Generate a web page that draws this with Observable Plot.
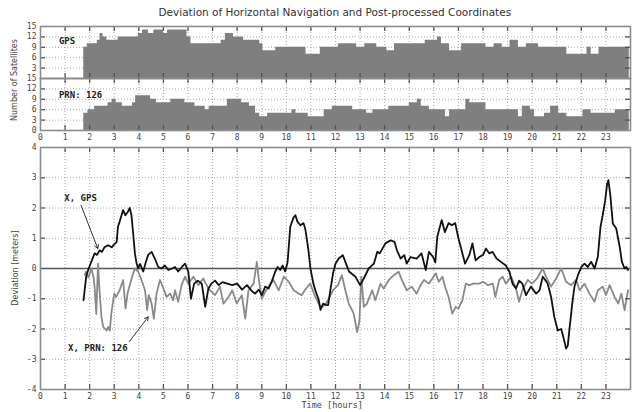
<!DOCTYPE html>
<html><head><meta charset="utf-8">
<script src="https://cdn.jsdelivr.net/npm/d3@7"></script>
<script src="https://cdn.jsdelivr.net/npm/@observablehq/plot@0.6"></script>
<style>
body{margin:0;background:#fff;}
#wrap{position:relative;width:634px;height:412px;overflow:hidden;font-family:"DejaVu Sans",sans-serif;color:#333;background:#fff}
#wrap svg{position:absolute;left:0;overflow:visible;background:transparent}
.t{position:absolute;white-space:nowrap;line-height:1}
</style></head><body><div id="wrap"></div><script>
// ---- texts ----
const title = "Deviation of Horizontal Navigation and Post-processed Coordinates";
const satLabel = "Number of Satellites";
const devLabel = "Deviation [meters]";
const timeLabel = "Time [hours]";
const panelNames = ["GPS", "PRN: 126"];
const seriesNames = ["X, GPS", "X, PRN: 126"];

// ---- tick labels ----
const hourTicks = [0,1,2,3,4,5,6,7,8,9,10,11,12,13,14,15,16,17,18,19,20,21,22,23];
const satTicksTop = [3,6,9,12,15];
const satTicksBottom = [0,3,6,9,12,15];
const devTicks = [-4,-3,-2,-1,0,1,2,3,4];

// ---- number of satellites, GPS (step starts) ----
const gpsSatHour  = [1.76,1.9,2.31,2.42,2.54,2.7,3.16,3.98,4.15,4.39,4.61,5.0,5.17,5.96,6.12,7.35,7.52,7.85,8.26,8.92,9.05,9.57,10.56,10.8,11.38,12.12,12.86,13.19,13.68,14.09,14.4,14.83,15.65,16.15,16.31,16.64,17.13,18.12,18.45,18.78,19.1,19.44,19.76,20.26,21.24,21.41,22.23,22.4,22.72,23.95];
const gpsSatCount = [9,10,11,13,12,11,12,13,14,13,14,13,14,12,10,11,13,12,11,10,8,9,9,7,9,10,9,10,9,8,10,10,11,12,10,8,10,9,10,9,11,9,10,9,9,7,9,7,9,9];

// ---- number of satellites, PRN 126 ----
const prnSatHour  = [1.76,1.93,2.2,2.75,2.91,3.08,3.33,3.74,3.87,4.48,4.72,5.3,5.87,6.28,6.7,6.86,7.6,8.18,8.5,8.75,8.92,9.24,10.23,10.39,10.89,11.54,11.87,12.7,13.27,13.52,14.17,15.0,15.33,15.49,15.82,16.47,16.64,17.3,17.46,18.12,19.44,19.6,19.93,20.09,20.5,20.75,21.08,21.41,22.07,22.4,23.38,23.95];
const prnSatCount = [5,6,7,8,9,8,7,8,10,9,8,9,8,7,6,7,9,8,7,5,4,5,6,5,4,6,7,6,5,6,7,8,9,7,6,4,6,9,8,6,4,7,6,4,5,7,5,4,6,5,6,6];

// ---- deviation X, GPS ----
const gpsDevHour = [1.75,1.86,1.96,2.2,2.3,2.4,2.5,2.6,2.75,2.9,3.0,3.1,3.15,3.22,3.36,3.45,3.55,3.63,3.7,3.77,3.84,3.9,3.97,4.05,4.18,4.28,4.38,4.52,4.65,4.79,4.92,5.06,5.2,5.35,5.47,5.6,5.75,5.88,6.01,6.12,6.25,6.4,6.56,6.7,6.83,6.95,7.1,7.25,7.4,7.6,7.8,8.0,8.2,8.4,8.6,8.73,8.88,9.0,9.14,9.28,9.42,9.55,9.65,9.75,9.85,9.95,10.05,10.16,10.3,10.37,10.45,10.57,10.7,10.78,10.9,10.98,11.1,11.18,11.32,11.39,11.5,11.6,11.7,11.79,11.9,12.0,12.13,12.3,12.4,12.55,12.7,12.81,13.0,13.15,13.35,13.56,13.7,13.8,14.03,14.24,14.4,14.5,14.65,14.8,14.9,15.05,15.3,15.5,15.67,15.8,15.97,16.06,16.14,16.32,16.45,16.6,16.73,16.87,17.0,17.13,17.27,17.44,17.57,17.7,17.85,18.0,18.12,18.25,18.39,18.55,18.73,18.93,19.07,19.2,19.34,19.47,19.6,19.75,19.95,20.16,20.3,20.43,20.55,20.63,20.77,20.9,21.04,21.18,21.27,21.38,21.45,21.52,21.63,21.72,21.86,22.0,22.13,22.26,22.4,22.54,22.67,22.78,22.87,22.97,23.05,23.1,23.18,23.28,23.42,23.56,23.65,23.76,23.83,23.9];
const gpsDevValue = [-1.05,-0.25,0.0,0.5,0.45,0.6,0.55,0.7,0.77,0.7,0.8,0.88,1.38,1.55,1.93,1.76,1.87,2.0,1.76,1.15,0.5,0.2,0.0,0.15,-0.1,0.2,0.45,0.55,0.33,0.05,0.0,0.1,-0.05,0.0,0.05,-0.1,0.05,0.16,-0.1,-1.0,-0.5,-0.4,-0.5,-1.27,-0.66,-0.5,-0.4,-0.55,-0.45,-0.5,-0.55,-0.5,-0.7,-0.55,-0.75,-0.83,-0.7,-0.88,-0.6,-0.66,-0.4,-0.1,0.05,-0.05,0.1,-0.1,0.2,1.38,1.7,1.76,1.55,1.43,1.5,1.27,0.6,0.0,-0.5,-0.72,-1.05,-1.37,-1.16,-1.2,-1.21,-0.72,-0.16,0.16,0.33,0.44,0.22,-0.1,-0.2,-0.27,-0.55,-0.33,0.0,0.16,0.55,0.5,0.83,0.93,0.88,0.6,0.33,0.44,0.16,0.38,0.33,0.5,-0.05,0.55,0.38,0.2,1.05,1.6,1.2,1.5,1.43,1.5,1.0,0.6,0.16,0.44,0.83,0.27,0.38,0.45,0.66,0.5,0.55,0.33,0.22,0.1,-0.1,-0.5,-0.66,-0.4,-0.5,-0.88,-0.6,-0.83,-0.72,-0.27,-0.4,-0.5,-0.94,-1.6,-2.05,-2.0,-2.27,-2.65,-2.54,-1.99,-1.16,-0.6,-0.22,0.05,0.16,0.05,0.22,0.0,0.38,1.38,1.76,2.25,2.8,2.92,2.42,1.49,1.32,0.72,0.22,0.0,0.05,-0.05];

// ---- deviation X, PRN 126 ----
const prnDevHour = [1.8,1.86,1.95,2.07,2.16,2.2,2.27,2.34,2.4,2.48,2.55,2.68,2.75,2.82,2.88,3.0,3.08,3.22,3.36,3.46,3.54,3.67,3.77,3.84,3.97,4.11,4.25,4.34,4.4,4.52,4.61,4.72,4.86,5.0,5.13,5.27,5.4,5.47,5.6,5.74,5.88,6.01,6.22,6.42,6.62,6.83,7.1,7.3,7.44,7.65,7.8,7.98,8.19,8.33,8.46,8.67,8.8,8.87,9.0,9.14,9.28,9.48,9.69,9.9,10.1,10.3,10.5,10.63,10.75,10.97,11.18,11.38,11.58,11.72,11.9,12.1,12.26,12.4,12.54,12.74,12.88,12.97,13.05,13.15,13.28,13.49,13.62,13.83,13.96,14.17,14.37,14.57,14.7,14.9,15.1,15.3,15.46,15.6,15.8,15.94,16.08,16.2,16.35,16.48,16.6,16.75,16.89,17.0,17.16,17.3,17.44,17.6,17.84,18.0,18.2,18.4,18.5,18.66,18.8,18.93,19.14,19.34,19.47,19.6,19.82,20.0,20.2,20.43,20.56,20.77,20.97,21.18,21.38,21.59,21.79,21.93,22.13,22.33,22.54,22.67,22.87,23.0,23.15,23.35,23.5,23.63,23.76,23.9];
const prnDevValue = [-0.2,-0.1,-0.3,0.0,-0.3,-0.6,-1.5,0.16,-0.72,-1.6,-1.93,-2.05,-1.93,-2.05,-1.49,-0.83,-0.94,-0.72,-0.38,-1.32,-0.83,-0.44,-0.16,0.0,-0.1,-0.38,-0.72,-1.38,-0.88,-1.16,-1.66,-0.83,-0.38,-0.66,-0.94,-0.83,-1.05,-0.72,-1.1,-0.55,-0.27,-0.5,-0.27,-0.55,-0.33,-0.66,-0.88,-0.6,-1.16,-0.94,-0.72,-1.16,-0.88,-1.66,-0.72,-0.5,0.22,-0.3,-1.0,-0.77,-0.6,-0.38,-0.72,-0.27,-0.44,-0.72,-0.83,-0.88,-0.72,-0.5,-0.94,-1.27,-1.21,-1.0,-0.72,-0.55,-0.22,-0.72,-1.16,-1.49,-2.1,-1.77,-0.27,-1.27,-1.16,-0.72,-1.05,-0.5,-0.66,-0.38,-0.22,-0.11,-0.38,-0.72,-0.6,-0.83,-0.55,-0.38,-0.5,-0.33,-0.16,-0.44,-0.27,-0.66,-0.94,-1.49,-1.27,-1.32,-1.05,-0.5,-0.55,-0.5,-0.5,-0.44,-0.55,-0.5,-0.94,-0.38,-0.27,-0.5,-0.27,-0.66,-1.1,-0.72,-0.38,-0.5,-0.33,0.0,-0.27,-0.6,-0.33,0.0,-0.44,-0.55,-0.38,-0.72,-0.5,-0.83,-1.1,-0.72,-0.6,-0.88,-0.55,-0.94,-1.16,-0.83,-1.38,-0.72];

// ---- build tables ----
const zip = (xs, ys) => xs.map((x, i) => ({x, y: ys[i]}));
const gpsSat = zip(gpsSatHour, gpsSatCount);
const prnSat = zip(prnSatHour, prnSatCount);
const gpsDev = zip(gpsDevHour, gpsDevValue);
const prnDev = zip(prnDevHour, prnDevValue);

const wrap = document.getElementById("wrap");
const W = 634, ML = 40, MR = 4;
const PW = W - ML - MR;
const frameColor = "#8c8c8c", tickColor = "#555", gridColor = "#a8a8a8", labelColor = "#444";
const mono = "'DejaVu Sans Mono', monospace";

function innerTicks(ph, yTicks) {
  return [
    Plot.ruleX(hourTicks.slice(1), {x: d => d, insetTop: ph - 5, stroke: tickColor, strokeWidth: 1.3}),
    Plot.ruleX(hourTicks.slice(1), {x: d => d, insetBottom: ph - 5, stroke: tickColor, strokeWidth: 1.3}),
    Plot.ruleY(yTicks, {y: d => d, insetRight: PW - 5, stroke: tickColor, strokeWidth: 1.3}),
    Plot.ruleY(yTicks, {y: d => d, insetLeft: PW - 5, stroke: tickColor, strokeWidth: 1.3})
  ];
}
function grid(yTicks) {
  return [
    Plot.ruleX(hourTicks.slice(1), {x: d => d, stroke: gridColor, strokeDasharray: "1,2", strokeWidth: 1}),
    Plot.ruleY(yTicks, {y: d => d, stroke: gridColor, strokeDasharray: "1,2", strokeWidth: 1})
  ];
}
const axisTextY = (ticks) => Plot.axisY({ticks, tickSize: 0, tickPadding: 4, label: null, tickFormat: d => String(d), fontSize: 8, fontFamily: mono, fill: labelColor});
const axisTextX = () => Plot.axisX({ticks: hourTicks, tickSize: 0, tickPadding: 4, label: null, tickFormat: d => String(d), fontSize: 8, fontFamily: mono, fill: labelColor});

function place(svg, top) { svg.style.top = top + "px"; wrap.appendChild(svg); }

// ---- panel 1: GPS satellites ----
{
  const mt = 26, ph = 52;
  const p = Plot.plot({
    width: W, height: mt + ph + 2, marginTop: mt, marginBottom: 2, marginLeft: ML, marginRight: MR,
    x: {domain: [0, 24], axis: null}, y: {domain: [0, 15], axis: null},
    marks: [
      ...grid([3,6,9,12]),
      Plot.areaY(gpsSat, {x: "x", y: "y", curve: "step-after", fill: "#7f7f7f"}),
      Plot.text([panelNames[0]], {x: 0.75, y: 10.7, text: d => d, textAnchor: "start", fontWeight: "bold", fontSize: 9, fontFamily: mono, fill: "#222"}),
      ...innerTicks(ph, [3,6,9,12]),
      axisTextY(satTicksTop),
      Plot.frame({stroke: frameColor, strokeWidth: 1.6})
    ]
  });
  place(p, 0);
}
// ---- panel 2: PRN 126 satellites ----
{
  const mt = 0, ph = 52;
  const p = Plot.plot({
    width: W, height: ph + 14, marginTop: mt, marginBottom: 14, marginLeft: ML, marginRight: MR,
    x: {domain: [0, 24], axis: null}, y: {domain: [0, 15], axis: null},
    marks: [
      ...grid([3,6,9,12]),
      Plot.areaY(prnSat, {x: "x", y: "y", curve: "step-after", fill: "#7f7f7f"}),
      Plot.text([panelNames[1]], {x: 0.75, y: 10.3, text: d => d, textAnchor: "start", fontWeight: "bold", fontSize: 9, fontFamily: mono, fill: "#222"}),
      ...innerTicks(ph, [3,6,9,12]),
      axisTextY(satTicksBottom),
      axisTextX(),
      Plot.frame({stroke: frameColor, strokeWidth: 1.6})
    ]
  });
  place(p, 78);
}
// ---- panel 3: deviation ----
{
  const mt = 7, ph = 242;
  const p = Plot.plot({
    width: W, height: mt + ph + 23, marginTop: mt, marginBottom: 23, marginLeft: ML, marginRight: MR,
    x: {domain: [0, 24], axis: null}, y: {domain: [-4, 4], axis: null},
    marks: [
      ...grid([-3,-2,-1,1,2,3]),
      Plot.ruleY([0], {stroke: "#555", strokeWidth: 1.5}),
      Plot.line(prnDev, {x: "x", y: "y", stroke: "#8a8a8a", strokeWidth: 1.8}),
      Plot.line(gpsDev, {x: "x", y: "y", stroke: "#111", strokeWidth: 1.8}),
      Plot.text([seriesNames[0]], {x: 0.97, y: 2.32, text: d => d, textAnchor: "start", fontWeight: "bold", fontSize: 9, fontFamily: mono, fill: "#222"}),
      Plot.arrow([{x1: 1.65, y1: 2.09, x2: 2.33, y2: 0.66}], {x1: "x1", y1: "y1", x2: "x2", y2: "y2", stroke: "#333", strokeWidth: 1, headLength: 6}),
      Plot.text([seriesNames[1]], {x: 1.12, y: -2.63, text: d => d, textAnchor: "start", fontWeight: "bold", fontSize: 9, fontFamily: mono, fill: "#222"}),
      Plot.arrow([{x1: 3.61, y1: -2.42, x2: 4.38, y2: -1.6}], {x1: "x1", y1: "y1", x2: "x2", y2: "y2", stroke: "#333", strokeWidth: 1, headLength: 6}),
      ...innerTicks(ph, [-3,-2,-1,1,2,3]),
      axisTextY(devTicks),
      axisTextX(),
      Plot.frame({stroke: frameColor, strokeWidth: 1.6})
    ]
  });
  place(p, 140);
}

// ---- titles & axis labels ----
function addText(txt, css) {
  const d = document.createElement("div");
  d.className = "t"; d.textContent = txt;
  Object.assign(d.style, css);
  wrap.appendChild(d);
  return d;
}
const tt = addText(title, {fontSize: "10.5px", color: "#333", left: "0px", top: "7px"});
tt.style.left = (335 - tt.offsetWidth / 2) + "px";
const tl = addText(timeLabel, {fontSize: "8.5px", fontFamily: mono, color: labelColor, top: "401px"});
tl.style.left = (332 - tl.offsetWidth / 2) + "px";
const sl = addText(satLabel, {fontSize: "8px", color: labelColor});
sl.style.left = (15 - sl.offsetWidth / 2) + "px";
sl.style.top = (80 - sl.offsetHeight / 2) + "px";
sl.style.transform = "rotate(-90deg)";
const dl = addText(devLabel, {fontSize: "8px", color: labelColor});
dl.style.left = (15 - dl.offsetWidth / 2) + "px";
dl.style.top = (268 - dl.offsetHeight / 2) + "px";
dl.style.transform = "rotate(-90deg)";
</script></body></html>
